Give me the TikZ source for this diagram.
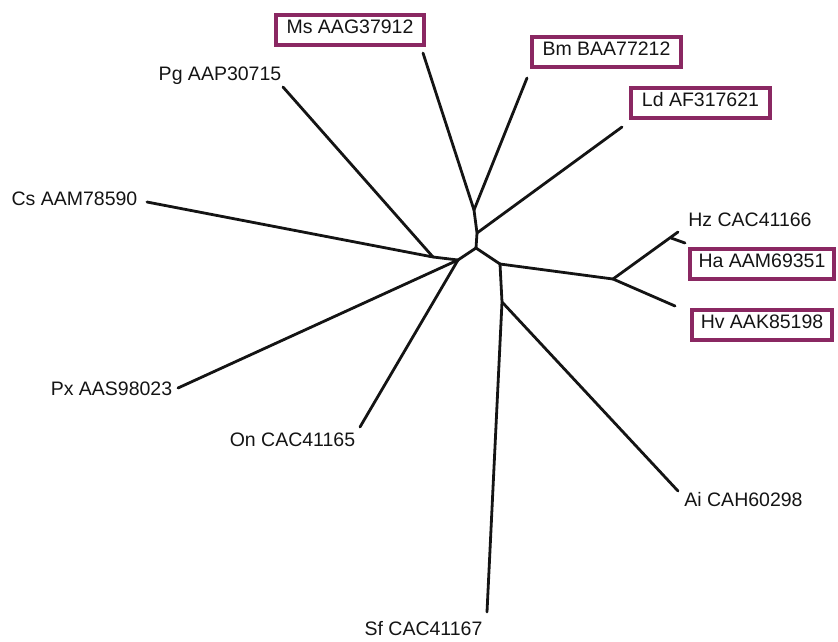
\documentclass[tikz,border=0pt]{standalone}
\usepackage{fontspec}
\setmainfont{Liberation Sans}
\definecolor{boxpurple}{RGB}{138,40,98}
\definecolor{ink}{RGB}{20,20,20}
\begin{document}
\begin{tikzpicture}[x=1pt,y=-1pt,
  lbl/.style={inner sep=0pt,text height=0.72em,text depth=0pt,font=\fontsize{19.5}{23}\selectfont,text=ink},
  boxed/.style={lbl,draw=boxpurple,line width=4pt,inner xsep=11pt,minimum height=30pt},
  br/.style={draw=ink,line width=2.8pt,line cap=round,line join=round}]
\useasboundingbox (0,0) rectangle (838,641);
% labels
\node[boxed] (Ms) at (350,30) {Ms AAG37912};
\node[boxed] (Bm) at (606.5,51.5) {Bm BAA77212};
\node[boxed] (Ld) at (700.5,103) {Ld AF317621};
\node[boxed,inner xsep=9pt] (Ha) at (762,263.5) {Ha AAM69351};
\node[boxed,inner xsep=9pt] (Hv) at (762,324.5) {Hv AAK85198};
\node[lbl] (Hz) at (750,223) {Hz CAC41166};
\node[lbl] (Pg) at (220,77) {Pg AAP30715};
\node[lbl] (Cs) at (74.5,202) {Cs AAM78590};
\node[lbl] (Px) at (111.5,392) {Px AAS98023};
\node[lbl] (On) at (292.5,443) {On CAC41165};
\node[lbl] (Ai) at (743.5,503) {Ai CAH60298};
\node[lbl] (Sf) at (423.5,632) {Sf CAC41167};
% tips
\coordinate (tMs) at (423,53);
\coordinate (tBm) at (527,78);
\coordinate (tLd) at (622,127);
\coordinate (tPg) at (283,87);
\coordinate (tCs) at (147,202);
\coordinate (tPx) at (178,388);
\coordinate (tOn) at (360,427);
\coordinate (tSf) at (487,612);
\coordinate (tAi) at (678,491);
\coordinate (tHz) at (678,232);
\coordinate (tHa) at (685,243);
\coordinate (tHv) at (675,306);
% internal nodes
\coordinate (A) at (474,210);
\coordinate (B) at (477,233);
\coordinate (C) at (476,248);
\coordinate (D) at (458,260);
\coordinate (E) at (433,257);
\coordinate (F) at (500,264);
\coordinate (G) at (502,302);
\coordinate (H) at (613,279);
\coordinate (I) at (671,238);
% branches
\draw[br] (tMs) -- (A);
\draw[br] (tBm) -- (A);
\draw[br] (A) -- (B) -- (C);
\draw[br] (tLd) -- (B);
\draw[br] (C) -- (D);
\draw[br] (tCs) -- (E) -- (D);
\draw[br] (tPg) -- (E);
\draw[br] (tPx) -- (D);
\draw[br] (tOn) -- (D);
\draw[br] (C) -- (F);
\draw[br] (F) -- (H);
\draw[br] (F) -- (G) -- (tSf);
\draw[br] (G) -- (tAi);
\draw[br] (H) -- (tHz);
\draw[br] (I) -- (tHa);
\draw[br] (H) -- (tHv);
\end{tikzpicture}
\end{document}
